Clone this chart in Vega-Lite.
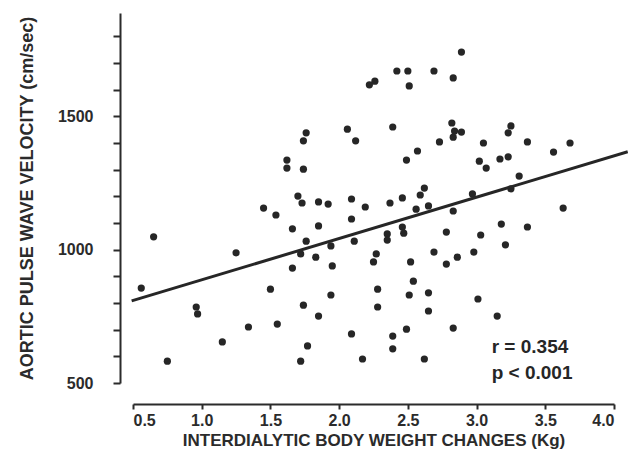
{
  "$schema": "https://vega.github.io/schema/vega-lite/v6.json",
  "width": 481,
  "height": 370,
  "autosize": {"type": "none"},
  "padding": {"left": 133, "top": 13, "right": 14, "bottom": 70},
  "background": "white",
  "config": {
    "view": {"stroke": null},
    "font": "Liberation Sans",
    "axis": {
      "grid": false,
      "domainColor": "#2b2b2b",
      "domainWidth": 2,
      "tickColor": "#2b2b2b",
      "tickWidth": 2,
      "labelFont": "Liberation Sans",
      "labelFontWeight": "bold",
      "labelColor": "#2b2b2b",
      "labelOverlap": false,
      "titleFont": "Liberation Sans",
      "titleFontWeight": "bold",
      "titleColor": "#2b2b2b"
    }
  },
  "layer": [
    {
      "data": {
        "values": [
          {"x": 0.56, "y": 856}, {"x": 0.65, "y": 1048}, {"x": 0.75, "y": 582}, {"x": 0.96, "y": 785},
          {"x": 0.97, "y": 759}, {"x": 1.15, "y": 654}, {"x": 1.25, "y": 988}, {"x": 1.34, "y": 710},
          {"x": 1.45, "y": 1156}, {"x": 1.5, "y": 852}, {"x": 1.54, "y": 1130}, {"x": 1.55, "y": 721},
          {"x": 1.62, "y": 1336}, {"x": 1.62, "y": 1306}, {"x": 1.66, "y": 1078}, {"x": 1.66, "y": 931},
          {"x": 1.7, "y": 1201}, {"x": 1.73, "y": 1175}, {"x": 1.74, "y": 1302}, {"x": 1.74, "y": 1408},
          {"x": 1.76, "y": 1438}, {"x": 1.72, "y": 984}, {"x": 1.76, "y": 1032}, {"x": 1.74, "y": 792},
          {"x": 1.72, "y": 582}, {"x": 1.77, "y": 639}, {"x": 1.85, "y": 1179}, {"x": 1.85, "y": 1089},
          {"x": 1.83, "y": 972}, {"x": 1.85, "y": 751}, {"x": 1.92, "y": 1171}, {"x": 1.94, "y": 1014},
          {"x": 1.95, "y": 939}, {"x": 1.94, "y": 830}, {"x": 2.06, "y": 1452}, {"x": 2.12, "y": 1408},
          {"x": 2.09, "y": 1190}, {"x": 2.09, "y": 1115}, {"x": 2.11, "y": 1032}, {"x": 2.09, "y": 684},
          {"x": 2.19, "y": 1160}, {"x": 2.17, "y": 590}, {"x": 2.22, "y": 1618}, {"x": 2.26, "y": 1632},
          {"x": 2.25, "y": 954}, {"x": 2.27, "y": 984}, {"x": 2.28, "y": 852}, {"x": 2.28, "y": 785},
          {"x": 2.35, "y": 1059}, {"x": 2.35, "y": 1036}, {"x": 2.37, "y": 1175}, {"x": 2.39, "y": 1460},
          {"x": 2.39, "y": 676}, {"x": 2.39, "y": 628}, {"x": 2.42, "y": 1670}, {"x": 2.46, "y": 1194},
          {"x": 2.46, "y": 1085}, {"x": 2.47, "y": 1062}, {"x": 2.49, "y": 1336}, {"x": 2.49, "y": 702},
          {"x": 2.5, "y": 1670}, {"x": 2.51, "y": 1614}, {"x": 2.51, "y": 830}, {"x": 2.52, "y": 954},
          {"x": 2.54, "y": 882}, {"x": 2.56, "y": 1152}, {"x": 2.57, "y": 1370}, {"x": 2.59, "y": 1205},
          {"x": 2.62, "y": 1231}, {"x": 2.62, "y": 590}, {"x": 2.65, "y": 1164}, {"x": 2.65, "y": 838},
          {"x": 2.65, "y": 770}, {"x": 2.69, "y": 1670}, {"x": 2.69, "y": 991}, {"x": 2.73, "y": 1404},
          {"x": 2.78, "y": 1066}, {"x": 2.78, "y": 946}, {"x": 2.82, "y": 1475}, {"x": 2.84, "y": 1445},
          {"x": 2.89, "y": 1441}, {"x": 2.83, "y": 1422}, {"x": 2.83, "y": 1644}, {"x": 2.89, "y": 1741},
          {"x": 2.83, "y": 1145}, {"x": 2.83, "y": 706}, {"x": 2.86, "y": 972}, {"x": 2.97, "y": 1209},
          {"x": 2.98, "y": 991}, {"x": 3.01, "y": 815}, {"x": 3.02, "y": 1332}, {"x": 3.03, "y": 1055},
          {"x": 3.05, "y": 1400}, {"x": 3.07, "y": 1306}, {"x": 3.15, "y": 751}, {"x": 3.17, "y": 1340},
          {"x": 3.18, "y": 1096}, {"x": 3.21, "y": 1018}, {"x": 3.23, "y": 1348}, {"x": 3.23, "y": 1438},
          {"x": 3.25, "y": 1464}, {"x": 3.25, "y": 1228}, {"x": 3.31, "y": 1276}, {"x": 3.37, "y": 1404},
          {"x": 3.37, "y": 1085}, {"x": 3.56, "y": 1366}, {"x": 3.63, "y": 1156}, {"x": 3.68, "y": 1400}
        ]
      },
      "mark": {"type": "circle", "size": 52, "opacity": 1, "color": "#262626"},
      "encoding": {
        "x": {
          "field": "x", "type": "quantitative",
          "scale": {"domain": [0.5, 4.0], "nice": false, "zero": false},
          "axis": {
            "title": "INTERDIALYTIC BODY WEIGHT CHANGES (Kg)",
            "values": [0.5, 1.0, 1.5, 2.0, 2.5, 3.0, 3.5, 4.0],
            "tickCount": 20,
            "format": ".1f",
            "offset": 21,
            "tickSize": 5,
            "labelFontSize": 16,
            "labelPadding": 3,
            "titleFontSize": 17,
            "titlePadding": 4
          }
        },
        "y": {
          "field": "y", "type": "quantitative",
          "scale": {"domain": [500, 1887.5], "nice": false, "zero": false},
          "axis": {
            "title": "AORTIC PULSE WAVE VELOCITY (cm/sec)",
            "values": [500, 600, 700, 800, 900, 1000, 1100, 1200, 1300, 1400, 1500, 1600, 1700, 1800],
            "tickCount": 30,
            "format": "d",
            "labelExpr": "datum.value % 500 === 0 ? datum.label : ''",
            "offset": 13,
            "tickSize": 7,
            "labelFontSize": 16,
            "labelPadding": 20,
            "titleFontSize": 18,
            "titlePadding": 21
          }
        }
      }
    },
    {
      "data": {"values": [{"x": 0.49, "y": 808}, {"x": 4.1, "y": 1367}]},
      "mark": {"type": "line", "color": "#262626", "strokeWidth": 3},
      "encoding": {
        "x": {"field": "x", "type": "quantitative"},
        "y": {"field": "y", "type": "quantitative"}
      }
    },
    {
      "data": {"values": [{"x": 3.11, "y": 635, "t": "r = 0.354"}, {"x": 3.11, "y": 537, "t": "p < 0.001"}]},
      "mark": {"type": "text", "align": "left", "baseline": "middle", "fontSize": 19, "fontWeight": "bold", "color": "#262626", "font": "Liberation Sans"},
      "encoding": {
        "x": {"field": "x", "type": "quantitative"},
        "y": {"field": "y", "type": "quantitative"},
        "text": {"field": "t"}
      }
    }
  ]
}
